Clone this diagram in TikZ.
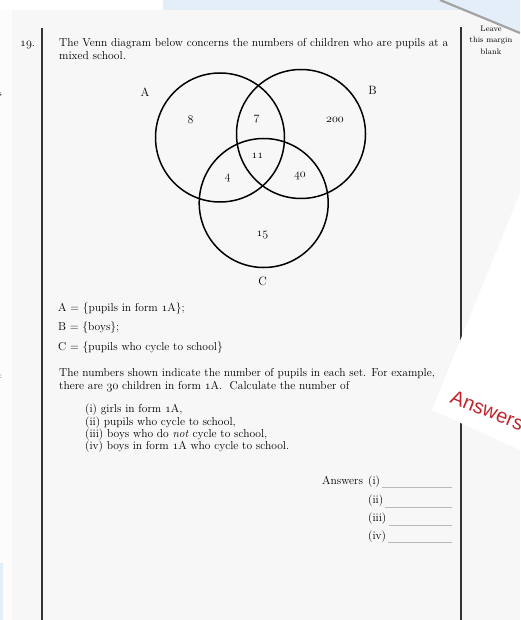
\documentclass[tikz,border=0pt]{standalone}
\usepackage{fontspec}
\newfontfamily\stampfont{Liberation Sans}
\usetikzlibrary{positioning}
\definecolor{pagegray}{HTML}{F7F7F7}
\definecolor{deskblue}{HTML}{E3EEF8}
\definecolor{edgegray}{HTML}{A3A3A3}
\definecolor{inkgray}{HTML}{333333}
\definecolor{rulegray}{HTML}{B8B8B8}
\definecolor{stampred}{HTML}{C0262C}
\newcommand\osf[1]{{\usefont{OML}{cmm}{m}{it}#1}}
\newcommand\inkfont{\addfontfeature{FakeBold=0.6}}

\begin{document}
\begin{tikzpicture}[x=1pt,y=-1pt,
  venn/.style={
    circle, draw=black, line width=1.5pt, minimum size=129pt, inner sep=0pt
  },
  setlabel/.style={inner sep=0pt, font=\fontsize{12}{14}\selectfont\inkfont},
  count/.style={inner sep=0pt, font=\fontsize{12}{14}\selectfont},
  qtext/.style={anchor=base west, inner sep=0pt, font=\fontsize{11.5}{13}\selectfont\inkfont},
  margintext/.style={align=center, inner sep=0pt, font=\fontsize{8}{11.5}\selectfont\inkfont},
  rule/.style={draw=inkgray, line width=1.6pt},
  answerline/.style={draw=rulegray, line width=0.8pt}
]
\clip (0,0) rectangle (520,620);
\fill[pagegray] (0,0) rectangle (520,620);
\fill[white!60!pagegray] (0,0) rectangle (12,620);
\fill[white] (0,0) rectangle (163,10);
\fill[deskblue] (163,0) rectangle (520,10);
\fill[deskblue] (0,563) rectangle (3,620);

% page rules
\coordinate (lefttop) at (42,28);
\coordinate (leftbot) at (42,620);
\coordinate (righttop) at (461,27);
\coordinate (rightbot) at (461,620);
\draw[rule] (lefttop) -- (leftbot);
\draw[rule] (righttop) -- (rightbot);

\node[inner sep=0pt, font=\fontsize{8}{9}\selectfont] (edgeS) at (0,95) {s};
\node[inner sep=0pt, font=\fontsize{8}{9}\selectfont] (edgeC) at (1,377) {:};

\node[qtext] (qnum) at (20,47) {\osf{19}.};
\node[qtext] (intro1) at (59,47) {The Venn diagram below concerns the numbers of children who are pupils at a};
\node[qtext] (intro2) at (59,60) {mixed school.};

\node[margintext] (margin) at (491,40) {Leave\\this margin\\blank};

% Venn diagram
\node[venn] (setA) at (220,137.5) {};
\node[venn] (setB) at (301,134) {};
\node[venn] (setC) at (263.7,203) {};

\node[setlabel] (labA) at (145,92.5) {A};
\node[setlabel] (labB) at (372.5,90) {B};
\node[setlabel] (labC) at (262.5,281) {C};

\node[count] (nA) at (190.5,120) {\osf{8}};
\node[count] (nAB) at (256.5,119) {\osf{7}};
\node[count] (nB) at (335,120) {\osf{200}};
\node[count] (nABC) at (257.5,156) {\osf{11}};
\node[count] (nAC) at (227.5,178) {\osf{4}};
\node[count] (nBC) at (300,176) {\osf{40}};
\node[count] (nC) at (262.5,235.5) {\osf{15}};

% set definitions and questions
\node[qtext] (defA) at (58,311) {A = \{pupils in form \osf{1}A\};};
\node[qtext] (defB) at (58,330.5) {B = \{boys\};};
\node[qtext] (defC) at (58,350) {C = \{pupils who cycle to school\}};

\node[qtext] (info1) at (59,376.5) {The numbers shown indicate the number of pupils in each set. For example,};
\node[qtext] (info2) at (59,389) {there are \osf{30} children in form \osf{1}A.\ \ Calculate the number of};

\node[qtext] (qi) at (85,412.5) {(i) girls in form \osf{1}A,};
\node[qtext] (qii) at (85,425) {(ii) pupils who cycle to school,};
\node[qtext] (qiii) at (85,437) {(iii) boys who do \textit{not} cycle to school,};
\node[qtext] (qiv) at (85,449.5) {(iv) boys in form \osf{1}A who cycle to school.};

% answer lines
\node[qtext] (answers) at (322,484) {Answers};
\node[qtext] (ai) at (368,484) {(i)};
\node[qtext] (aii) at (368,503) {(ii)};
\node[qtext] (aiii) at (368,521) {(iii)};
\node[qtext] (aiv) at (368,539) {(iv)};
\coordinate (endi) at (452,487);
\coordinate (endii) at (452,507);
\coordinate (endiii) at (452,525);
\coordinate (endiv) at (452,542);
\draw[answerline] (ai.base east) ++(2,3) -- (endi);
\draw[answerline] (aii.base east) ++(2,4) -- (endii);
\draw[answerline] (aiii.base east) ++(2,4) -- (endiii);
\draw[answerline] (aiv.base east) ++(2,3) -- (endiv);

% overlapping sheet and desktop corner
\fill[white] (520,193) -- (432,410) -- (520,450) -- cycle;
\node[anchor=base west, inner sep=0pt, rotate=-22, text=stampred,
  font=\stampfont\fontsize{20}{22}\selectfont] (stamp) at (449,402) {Answers};
\fill[deskblue] (440,0) -- (520,0) -- (520,33) -- cycle;
\coordinate (foldA) at (440,0);
\coordinate (foldB) at (520,33);
\draw[edgegray, line width=2.2pt] (foldA) -- (foldB);
\end{tikzpicture}
\end{document}
